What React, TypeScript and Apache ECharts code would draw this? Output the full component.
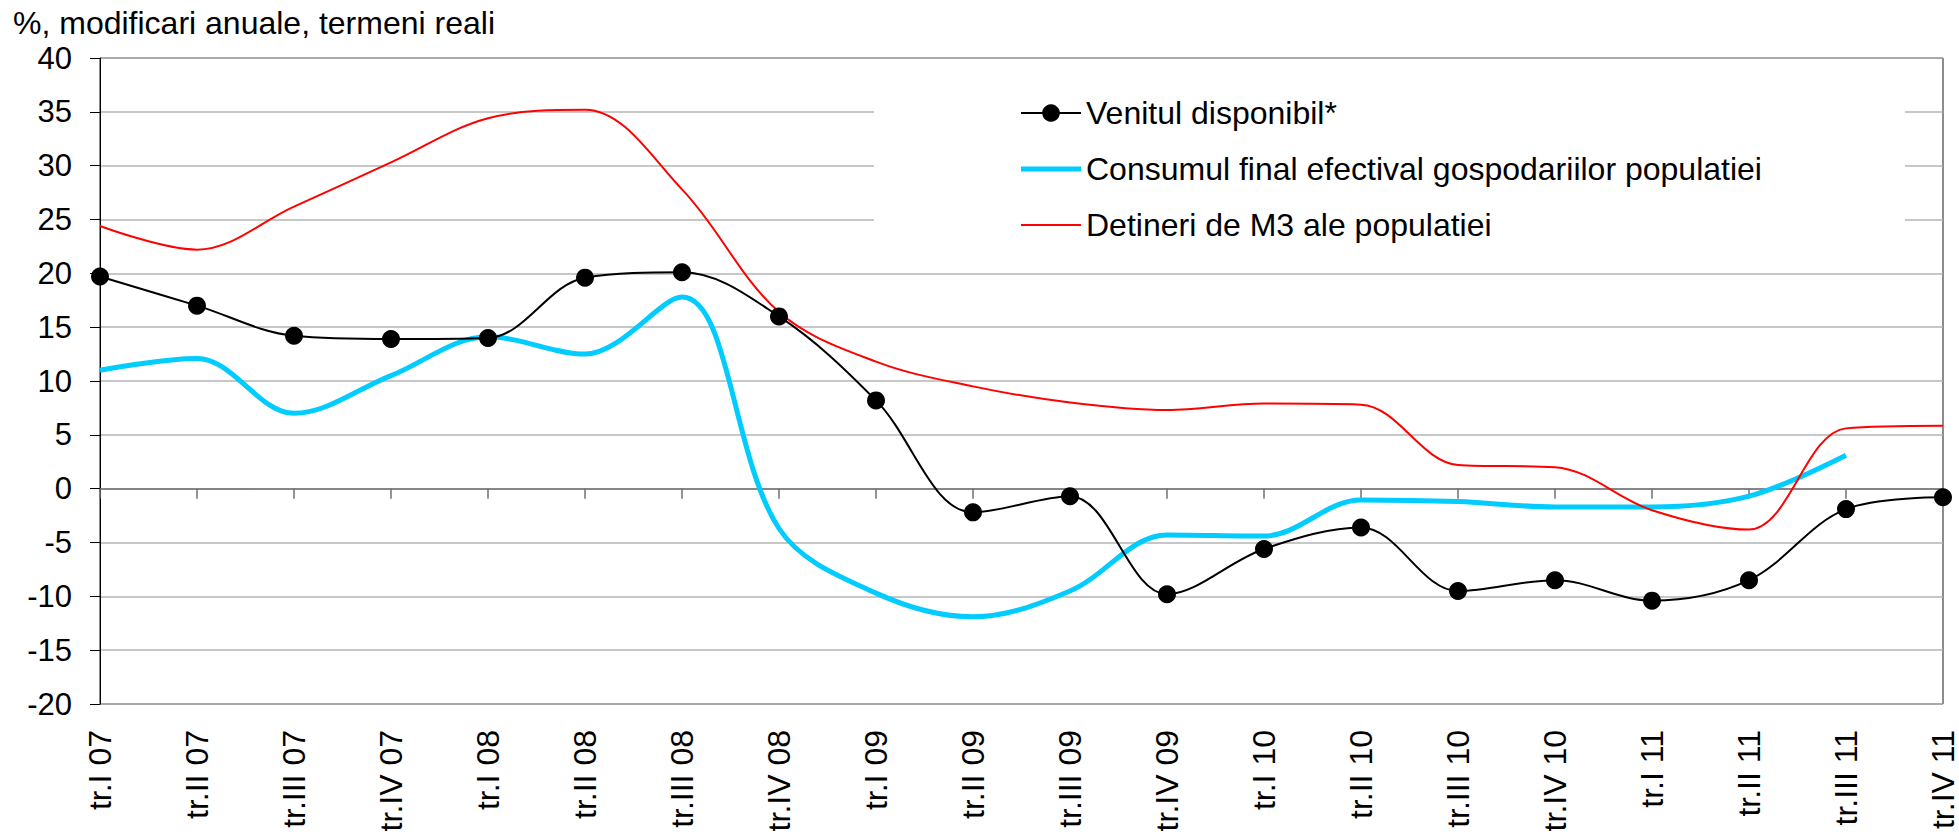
import React, { useEffect, useRef } from "react";
import * as echarts from "echarts";

const categories = [
  "tr.I 07", "tr.II 07", "tr.III 07", "tr.IV 07",
  "tr.I 08", "tr.II 08", "tr.III 08", "tr.IV 08",
  "tr.I 09", "tr.II 09", "tr.III 09", "tr.IV 09",
  "tr.I 10", "tr.II 10", "tr.III 10", "tr.IV 10",
  "tr.I 11", "tr.II 11", "tr.III 11", "tr.IV 11",
];

const venitulDisponibil = [
  19.7, 17.0, 14.2, 13.9, 14.0, 19.6, 20.1, 16.0, 8.2, -2.2,
  -0.7, -9.8, -5.6, -3.6, -9.5, -8.5, -10.4, -8.5, -1.9, -0.8,
];

const consumulFinal = [
  11.0, 12.1, 7.0, 10.5, 14.1, 12.5, 17.8, -3.7, -9.7, -11.9,
  -9.5, -4.3, -4.4, -1.05, -1.2, -1.7, -1.7, -0.7, 3.1, null,
];

const detineriM3 = [
  24.4, 22.2, 26.2, 30.3, 34.4, 35.2, 27.8, 16.4, 11.8, 9.5,
  8.0, 7.3, 7.9, 7.8, 2.2, 2.0, -2.0, -3.8, 5.6, 5.85,
];

const yTicks = { min: -20, max: 40, interval: 5 };

const seriesNames = [
  "Venitul disponibil*",
  "Consumul final efectival gospodariilor populatiei",
  "Detineri de M3 ale populatiei",
];

const titleText = "%, modificari anuale, termeni reali";

const FONT = "'Liberation Sans', Arial, sans-serif";

export default function App() {
  const ref = useRef<HTMLDivElement>(null);

  useEffect(() => {
    if (!ref.current) return;
    const chart = echarts.init(ref.current, null, { renderer: "svg" });
    chart.setOption({
      animation: false,
      backgroundColor: "#ffffff",
      textStyle: { fontFamily: FONT },
      title: {
        text: titleText,
        left: 8,
        top: 2,
        textStyle: { fontFamily: FONT, fontSize: 32, fontWeight: "normal", color: "#000" },
      },
      grid: {
        left: 100,
        right: 15,
        top: 58,
        bottom: 131,
        show: true,
        borderColor: "#1a1a1a",
        borderWidth: 1,
        backgroundColor: "transparent",
      },
      legend: {
        orient: "vertical",
        left: 874,
        top: 75,
        padding: [22, 143, 9, 146],
        backgroundColor: "#ffffff",
        itemWidth: 60,
        itemHeight: 22,
        itemGap: 24,
        align: "left",
        symbolKeepAspect: true,
        textStyle: { fontFamily: FONT, fontSize: 32, color: "#000", lineHeight: 32 },
        data: [
          { name: seriesNames[0] },
          { name: seriesNames[1], icon: "path://M0 0H60V5H0Z" },
          { name: seriesNames[2], icon: "path://M0 0H60V2H0Z" },
        ],
      },
      xAxis: [
        {
          type: "category",
          data: categories,
          boundaryGap: false,
          position: "bottom",
          axisLine: { onZero: true, lineStyle: { color: "#707070", width: 1.5 } },
          axisTick: { show: true, inside: false, length: 10, lineStyle: { color: "#707070", width: 1.5 } },
          axisLabel: { show: false },
          splitLine: { show: false },
        },
        {
          type: "category",
          data: categories,
          boundaryGap: false,
          position: "bottom",
          axisLine: { show: false, onZero: false },
          axisTick: { show: false },
          axisLabel: {
            show: true,
            rotate: 90,
            margin: 26,
            interval: 0,
            fontSize: 32,
            color: "#000",
            fontFamily: FONT,
          },
          splitLine: { show: false },
        },
      ],
      yAxis: {
        type: "value",
        min: yTicks.min,
        max: yTicks.max,
        interval: yTicks.interval,
        axisLine: { show: true, lineStyle: { color: "#000", width: 1 } },
        axisTick: { show: true, inside: false, length: 10, lineStyle: { color: "#000" } },
        axisLabel: { margin: 28, fontSize: 31, color: "#000", fontFamily: FONT },
        splitLine: { show: true, lineStyle: { color: "#b4b4b4", width: 1.5 } },
      },
      series: [
        {
          name: seriesNames[1],
          type: "line",
          xAxisIndex: 0,
          data: consumulFinal,
          smooth: 0.35,
          symbol: "none",
          showSymbol: false,
          connectNulls: false,
          lineStyle: { color: "#00CCFF", width: 5 },
          itemStyle: { color: "#00CCFF" },
          z: 2,
        },
        {
          name: seriesNames[2],
          type: "line",
          xAxisIndex: 0,
          data: detineriM3,
          smooth: 0.35,
          symbol: "none",
          showSymbol: false,
          lineStyle: { color: "#FF0000", width: 2 },
          itemStyle: { color: "#FF0000" },
          z: 3,
        },
        {
          name: seriesNames[0],
          type: "line",
          xAxisIndex: 0,
          data: venitulDisponibil,
          smooth: 0.35,
          symbol: "circle",
          symbolSize: 18,
          showSymbol: true,
          lineStyle: { color: "#000", width: 2 },
          itemStyle: { color: "#000" },
          z: 4,
        },
      ],
    });
    return () => chart.dispose();
  }, []);

  return (
    <div
      ref={ref}
      style={{ position: "absolute", left: 0, top: 0, width: 1959, height: 835 }}
    />
  );
}
